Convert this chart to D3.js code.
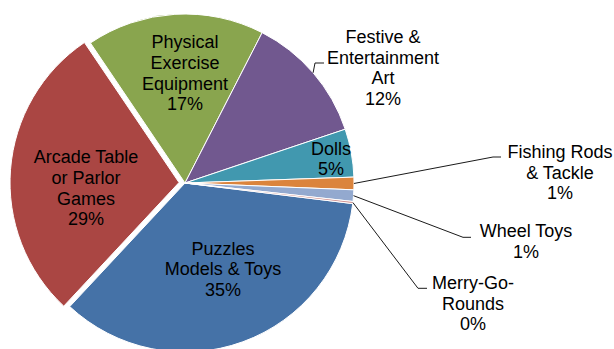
<!DOCTYPE html>
<html>
<head>
<meta charset="utf-8">
<script src="https://cdn.jsdelivr.net/npm/d3@7"></script>
<style>
  html, body { margin: 0; padding: 0; background: #fff; }
  svg { display: block; }
</style>
</head>
<body>
<svg id="chart" width="614" height="349"></svg>
<script>
// Share of toy & amusement imports by product group (percent)
const categories = [
  "Puzzles Models & Toys",
  "Arcade Table or Parlor Games",
  "Physical Exercise Equipment",
  "Festive & Entertainment Art",
  "Dolls",
  "Fishing Rods & Tackle",
  "Wheel Toys",
  "Merry-Go-Rounds"
];
const shares = [35.0, 28.6, 17.0, 12.3, 4.6, 1.2, 1.1, 0.2];
const percentLabels = ["35%", "29%", "17%", "12%", "5%", "1%", "1%", "0%"];
const labelLines = [
  ["Puzzles", "Models & Toys"],
  ["Arcade Table", "or Parlor", "Games"],
  ["Physical", "Exercise", "Equipment"],
  ["Festive &", "Entertainment", "Art"],
  ["Dolls"],
  ["Fishing Rods", "& Tackle"],
  ["Wheel Toys"],
  ["Merry-Go-", "Rounds"]
];
const colors = ["#4572A7", "#AA4643", "#89A54E", "#71588F", "#4198AF", "#DB843D", "#93A9CF", "#D19392"];

// Layout
const cx = 185, cy = 183, radius = 169;
const startDeg = 97;
const explodedIndex = 1, explodeDist = 6;
const fontSize = 18, lineGap = 20.8;

// Label anchors (first baseline) and leader elbows for outside labels
const labelLayout = [
  { x: 223, y: 254.5 },
  { x: 86,  y: 163 },
  { x: 185, y: 48 },
  { x: 383, y: 42.7, elbow: [315, 63], end: [324, 63] },
  { x: 331, y: 154.5 },
  { x: 560, y: 157.7, elbow: [493, 157], end: [501, 157] },
  { x: 526, y: 237,   elbow: [463, 237.3], end: [471, 237.3] },
  { x: 473, y: 288.7, elbow: [418, 288.3], end: [427, 288.3] }
];

const data = categories.map((c, i) => ({ name: c, value: shares[i], idx: i }));

const rad = d => d * Math.PI / 180;
const pie = d3.pie()
  .sort(null)
  .value(d => d.value)
  .startAngle(rad(startDeg))
  .endAngle(rad(startDeg) + 2 * Math.PI);

const arc = d3.arc().innerRadius(0).outerRadius(radius);
const arcs = pie(data);

const svg = d3.select("#chart");
const g = svg.append("g").attr("transform", `translate(${cx},${cy})`);

g.selectAll("path.slice")
  .data(arcs)
  .join("path")
  .attr("class", "slice")
  .attr("d", arc)
  .attr("fill", d => colors[d.data.idx])
  .attr("stroke", "#fff")
  .attr("stroke-width", 1)
  .attr("stroke-linejoin", "round")
  .attr("transform", d => {
    if (d.data.idx !== explodedIndex) return null;
    const mid = (d.startAngle + d.endAngle) / 2;
    return `translate(${Math.sin(mid) * explodeDist},${-Math.cos(mid) * explodeDist})`;
  });

// Leader lines for small slices
const leaderGroup = svg.append("g");
arcs.forEach(d => {
  const lay = labelLayout[d.data.idx];
  if (!lay.elbow) return;
  const mid = (d.startAngle + d.endAngle) / 2;
  const sx = cx + Math.sin(mid) * radius;
  const sy = cy - Math.cos(mid) * radius;
  leaderGroup.append("polyline")
    .attr("points", [[sx, sy], lay.elbow, lay.end].map(p => p.join(",")).join(" "))
    .attr("fill", "none")
    .attr("stroke", "#1a1a1a")
    .attr("stroke-width", 1);
});

// Category and percentage labels
const labelGroup = svg.append("g")
  .attr("font-family", "'Liberation Sans', Arial, Helvetica, sans-serif")
  .attr("font-size", fontSize)
  .attr("fill", "#000")
  .attr("text-anchor", "middle");

arcs.forEach(d => {
  const i = d.data.idx;
  const lay = labelLayout[i];
  const lines = labelLines[i].concat([percentLabels[i]]);
  const t = labelGroup.append("text").attr("x", lay.x).attr("y", lay.y);
  lines.forEach((ln, k) => {
    t.append("tspan")
      .attr("x", lay.x)
      .attr("y", lay.y + k * lineGap)
      .text(ln);
  });
});
</script>
</body>
</html>
